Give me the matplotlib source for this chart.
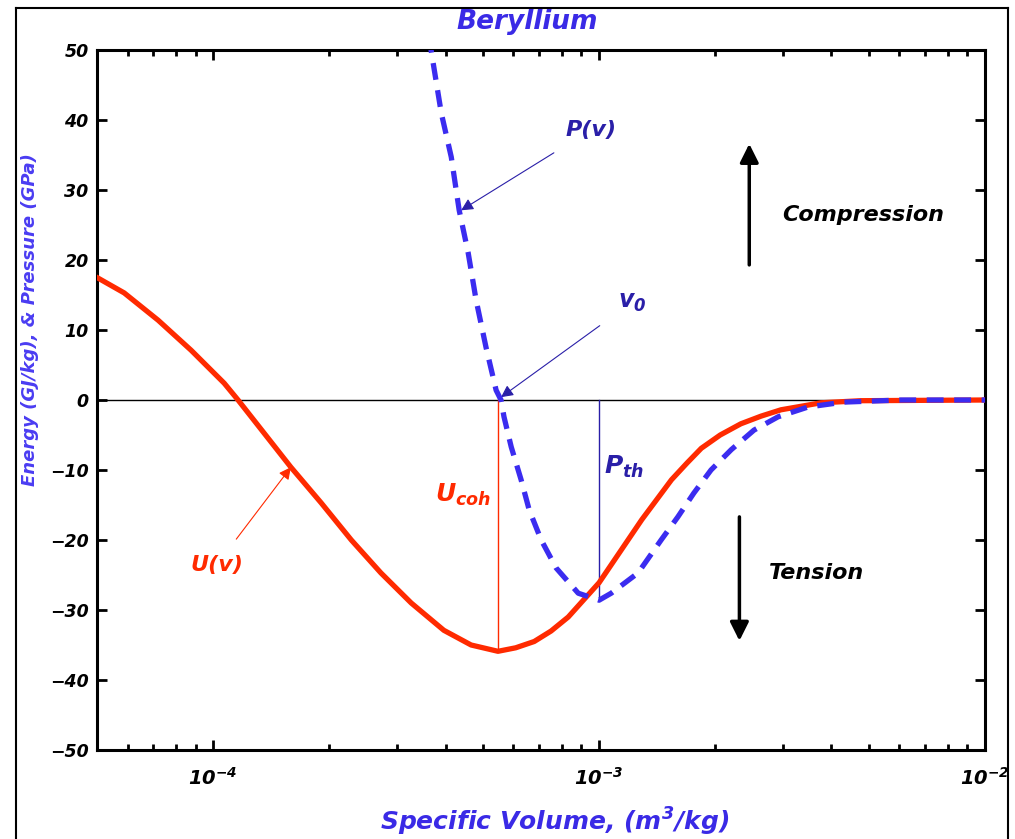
import numpy as np
import matplotlib
matplotlib.use("Agg")
import matplotlib.pyplot as plt
from matplotlib.lines import Line2D
from matplotlib.ticker import LogLocator, FixedLocator, NullFormatter

plt.rcParams['font.family'] = ['DejaVu Sans']
plt.rcParams['mathtext.fontset'] = 'custom'
plt.rcParams['mathtext.rm'] = 'DejaVu Sans:bold:oblique'
plt.rcParams['mathtext.it'] = 'DejaVu Sans:bold:oblique'
plt.rcParams['mathtext.bf'] = 'DejaVu Sans:bold:oblique'

# energy curve U(v), GJ/kg
v_u = [5.0e-5, 5.88e-5, 7.20e-5, 8.77e-5, 1.068e-4, 1.16e-4, 1.59e-4, 1.905e-4,
       2.28e-4, 2.72e-4, 3.26e-4, 3.96e-4, 4.66e-4, 5.47e-4, 6.08e-4, 6.79e-4,
       7.51e-4, 8.32e-4, 1.0e-3, 1.29e-3, 1.54e-3, 1.69e-3, 1.84e-3, 2.06e-3,
       2.33e-3, 2.63e-3, 2.96e-3, 3.76e-3, 4.77e-3, 1.0e-2]
u = [17.5, 15.3, 11.4, 7.1, 2.4, 0.0, -9.6, -14.7,
     -20.0, -24.7, -29.0, -32.9, -35.0, -35.9, -35.4, -34.5,
     -33.0, -31.0, -26.1, -17.1, -11.4, -9.0, -6.9, -5.0,
     -3.4, -2.3, -1.4, -0.4, -0.1, 0.0]

# pressure curve P(v), GPa
v_p = [3.62e-4, 3.90e-4, 4.14e-4, 4.34e-4, 4.58e-4, 4.80e-4, 5.09e-4, 5.41e-4,
       5.57e-4, 5.67e-4, 5.92e-4, 6.28e-4, 6.59e-4, 7.08e-4, 7.74e-4, 8.83e-4,
       1.0e-3, 1.075e-3, 1.262e-3, 1.448e-3, 1.60e-3, 1.76e-3, 1.95e-3, 2.20e-3,
       2.52e-3, 2.91e-3, 3.48e-3, 4.31e-3, 6.05e-3, 1.0e-2]
p = [52.0, 41.0, 34.7, 27.1, 21.0, 14.3, 7.6, 1.4,
     0.0, -2.4, -6.7, -11.4, -15.7, -20.0, -24.0, -27.6,
     -28.6, -27.6, -24.7, -20.0, -16.7, -13.3, -10.0, -7.1,
     -4.3, -2.4, -1.0, -0.3, 0.0, 0.0]

v_coh, u_coh = 5.47e-4, -35.9
v_th, p_th = 1.0e-3, -28.6

y_ticks = list(range(-50, 51, 10))
x_ticks = [1e-4, 1e-3, 1e-2]
x_labels = [r'$10^{-4}$', r'$10^{-3}$', r'$10^{-2}$']

red = '#ff2a00'
blue = '#3b2cf0'
navy = '#2a1fa8'
lab = '#3a2ae6'

fig = plt.figure(figsize=(10.15, 8.39), dpi=100)
ax = fig.add_axes([97/1015, 1-750/839, 888/1015, 700/839])

ax.axhline(0, color='black', lw=1.0, zorder=1)
ax.plot([v_coh, v_coh], [0, u_coh], color=red, lw=1.0, zorder=2)
ax.plot([v_th, v_th], [0, p_th], color=navy, lw=1.0, zorder=2)
ax.plot(v_u, u, color=red, lw=3.8, zorder=3, solid_joinstyle='round')
ax.plot(v_p, p, color=blue, lw=3.8, ls=(0, (3.2, 2.0)), zorder=4)

ax.set_xscale('log')
ax.set_xlim(5.0e-5, 1.0e-2)
ax.set_ylim(-50, 50)
ax.yaxis.set_major_locator(FixedLocator(y_ticks))
ax.set_yticklabels([str(t).replace('-', '\u2212') for t in y_ticks])
ax.set_xticks(x_ticks)
ax.set_xticklabels(x_labels)
ax.xaxis.set_minor_locator(LogLocator(base=10, subs=np.arange(2, 10)))
ax.xaxis.set_minor_formatter(NullFormatter())

for sp in ax.spines.values():
    sp.set_linewidth(2.2)
ax.tick_params(which='both', direction='in', top=True, right=True, width=2.0)
ax.tick_params(which='major', length=7)
ax.tick_params(which='minor', length=4)
ax.tick_params(axis='y', labelsize=12.5, pad=6)
ax.tick_params(axis='x', labelsize=14, pad=12)
for t in ax.get_yticklabels():
    t.set_fontweight('bold')
    t.set_fontstyle('oblique')

tkw = dict(fontweight='bold', fontstyle='oblique')

ax.annotate('P(v)', xy=(4.39e-4, 27.1), xytext=(9.53e-4, 38.6), color=navy,
            fontsize=16, ha='center', va='center', **tkw,
            arrowprops=dict(arrowstyle='-|>', color=navy, lw=0.8,
                            mutation_scale=18, shrinkA=14, shrinkB=0))
ax.annotate(r'$v_0$', xy=(5.57e-4, 0.4), xytext=(1.22e-3, 14.0), color=navy,
            fontsize=17, ha='center', va='center',
            arrowprops=dict(arrowstyle='-|>', color=navy, lw=0.8,
                            mutation_scale=18, shrinkA=14, shrinkB=0))
ax.annotate('U(v)', xy=(1.59e-4, -9.6), xytext=(1.02e-4, -23.6), color=red,
            fontsize=16, ha='center', va='center', **tkw,
            arrowprops=dict(arrowstyle='-|>', color=red, lw=0.8,
                            mutation_scale=18, shrinkA=12, shrinkB=0))
ax.text(5.25e-4, -13.5, r'$U_{coh}$', color=red, fontsize=18,
        ha='right', va='center')
ax.text(1.03e-3, -9.5, r'$P_{th}$', color=navy, fontsize=18,
        ha='left', va='center')

ax.annotate('', xy=(2.45e-3, 36.6), xytext=(2.45e-3, 19.3),
            arrowprops=dict(arrowstyle='-|>', color='black', lw=2.5,
                            mutation_scale=28, shrinkA=0, shrinkB=0))
ax.text(4.83e-3, 26.4, 'Compression', fontsize=16, ha='center', va='center', **tkw)
ax.annotate('', xy=(2.31e-3, -34.4), xytext=(2.31e-3, -16.7),
            arrowprops=dict(arrowstyle='-|>', color='black', lw=2.5,
                            mutation_scale=28, shrinkA=0, shrinkB=0))
ax.text(3.65e-3, -24.7, 'Tension', fontsize=16, ha='center', va='center', **tkw)

fig.text(527/1015, 1-22/839, 'Beryllium', color=lab, fontsize=19,
         ha='center', va='center', **tkw)
fig.text(555/1015, 1-822/839, r'Specific Volume, ($m^3$/kg)', color=lab,
         fontsize=18, ha='center', va='center', **tkw)
fig.text(30/1015, 1-320/839, 'Energy (GJ/kg), & Pressure (GPa)', color='#4a3cf2',
         fontsize=13, rotation=90, ha='center', va='center', **tkw)

# outer frame
for xs, ys in [([16, 16], [8, 845]), ([16, 1008], [8, 8]), ([1008, 1008], [8, 845])]:
    fig.add_artist(Line2D([x/1015 for x in xs], [1-y/839 for y in ys],
                          color='black', lw=1.5, transform=fig.transFigure))

fig.savefig('out.png', dpi=100)
